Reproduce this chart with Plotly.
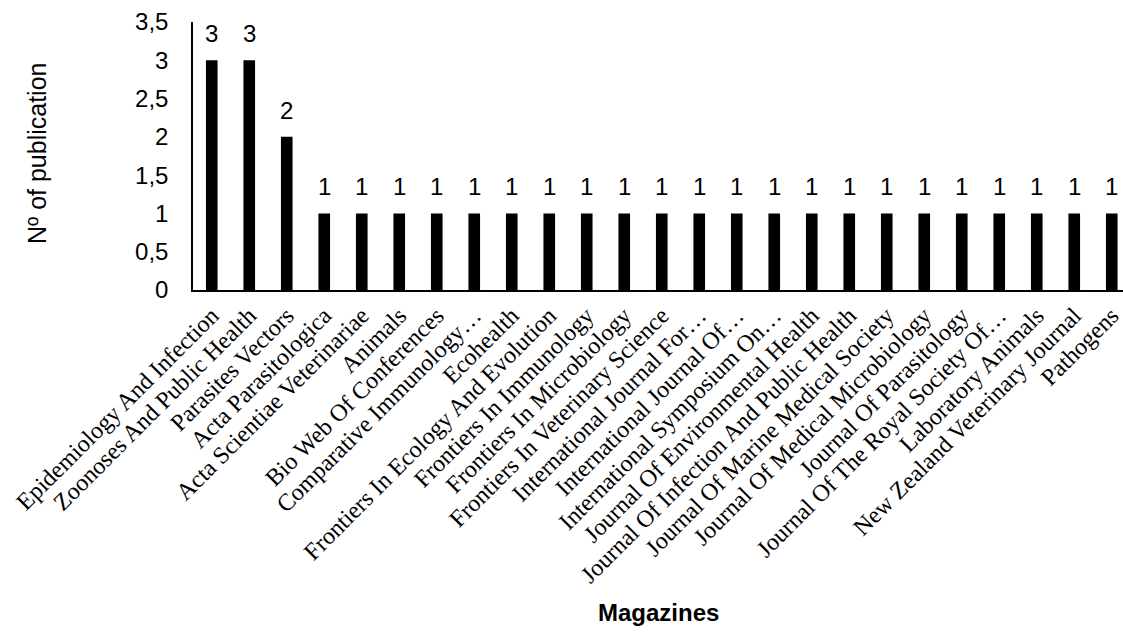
import plotly.graph_objects as go

magazines = [
    "Epidemiology And Infection",
    "Zoonoses And Public Health",
    "Parasites Vectors",
    "Acta Parasitologica",
    "Acta Scientiae Veterinariae",
    "Animals",
    "Bio Web Of Conferences",
    "Comparative Immunology…",
    "Ecohealth",
    "Frontiers In Ecology And Evolution",
    "Frontiers In Immunology",
    "Frontiers In Microbiology",
    "Frontiers In Veterinary Science",
    "International Journal For…",
    "International Journal Of…",
    "International Symposium On…",
    "Journal Of Environmental Health",
    "Journal Of Infection And Public Health",
    "Journal Of Marine Medical Society",
    "Journal Of Medical Microbiology",
    "Journal Of Parasitology",
    "Journal Of The Royal Society Of…",
    "Laboratory Animals",
    "New Zealand Veterinary Journal",
    "Pathogens",
]
publications = [3, 3, 2] + [1] * 22

y_ticks = [0, 0.5, 1, 1.5, 2, 2.5, 3, 3.5]

fig = go.Figure()
fig.add_trace(go.Bar(
    x=list(range(len(magazines))),
    y=publications,
    marker=dict(color="black", line=dict(width=0)),
    width=0.31,
    showlegend=False,
    hoverinfo="skip",
))

for i, v in enumerate(publications):
    fig.add_annotation(
        x=i, y=v, xref="x", yref="y",
        text=str(v), showarrow=False,
        yanchor="bottom", yshift=11,
        font=dict(family="Liberation Sans, Arial", size=24, color="black"),
    )

# x-axis title
fig.add_annotation(
    x=0.5, y=-1.205, xref="paper", yref="paper",
    xanchor="center", yanchor="middle",
    text="<b>Magazines</b>", showarrow=False,
    font=dict(family="Liberation Sans, Arial", size=24, color="black"),
)

# y-axis title
fig.add_annotation(
    x=0, y=0.5, xref="paper", yref="paper",
    xanchor="center", yanchor="middle", xshift=-156, yshift=2,
    textangle=-90,
    text="Nº of publication", showarrow=False,
    font=dict(family="Liberation Sans, Arial", size=25, color="black"),
)

fig.update_layout(
    width=1123, height=633,
    margin=dict(l=193, r=0, t=22, b=343, pad=0),
    plot_bgcolor="white", paper_bgcolor="white",
    separators=",.",
    bargap=0.69,
    xaxis=dict(
        tickmode="array",
        tickvals=list(range(len(magazines))),
        ticktext=magazines,
        tickangle=-45,
        range=[-0.5, 24.3],
        showline=True, linecolor="black", linewidth=2,
        showgrid=False, zeroline=False, ticks="",
        ticklabeloverflow="allow",
        tickfont=dict(family="Liberation Serif, Times New Roman", size=24, color="black"),
    ),
    yaxis=dict(
        range=[0, 3.5],
        tickvals=y_ticks,
        tickformat=".1~f",
        showline=True, linecolor="black", linewidth=1.5,
        showgrid=False, zeroline=False, ticks="",
        ticklabelstandoff=18,
        tickfont=dict(family="Liberation Sans, Arial", size=24, color="black"),
    ),
)

fig.write_html("out.html")
